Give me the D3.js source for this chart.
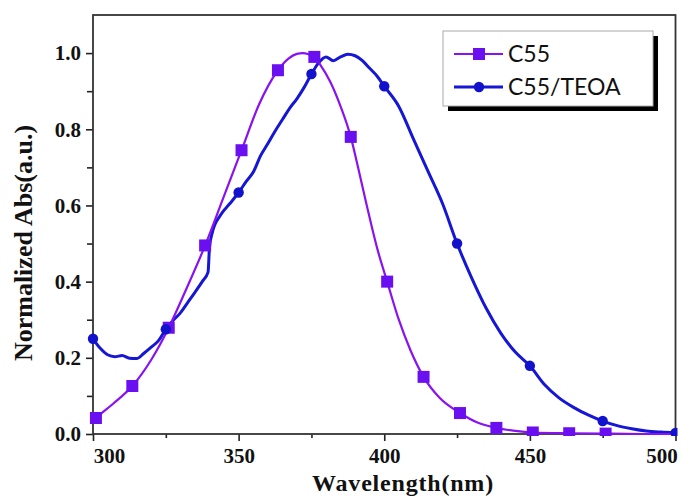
<!DOCTYPE html>
<html>
<head>
<meta charset="utf-8">
<script src="https://cdn.jsdelivr.net/npm/d3@7"></script>
<style>
  body { margin: 0; background: #fff; }
  svg { display: block; }
</style>
</head>
<body>
<svg id="chart" width="689" height="502" viewBox="0 0 689 502"></svg>
<script>
// C55 curve [wavelength nm, normalized abs]
const c55Curve = [
    [300, 0.035], [301, 0.042], [307, 0.08], [313.5, 0.126], [320, 0.195],
    [326, 0.279], [332, 0.38], [338.5, 0.495], [345, 0.625], [351, 0.745],
    [357, 0.865], [363.5, 0.955], [367, 0.985], [370, 0.998], [372, 1.0],
    [374, 0.997], [376, 0.99], [378, 0.97], [381.5, 0.924], [385, 0.86],
    [388.5, 0.78], [391, 0.70], [394, 0.60], [397.7, 0.484], [401, 0.40],
    [405, 0.30], [409, 0.22], [413.5, 0.15], [419, 0.095], [426, 0.055],
    [432, 0.03], [438.5, 0.016], [445, 0.008], [451, 0.004], [463.5, 0.002],
    [476, 0.001], [490, 0.0], [500, 0.0]
];
const c55Markers = [
    [301, 0.042], [313.5, 0.126], [326, 0.279], [338.5, 0.495], [351, 0.745],
    [363.5, 0.955], [376, 0.99], [388.5, 0.78], [401, 0.40], [413.5, 0.15],
    [426, 0.055], [438.5, 0.016], [451, 0.004], [463.5, 0.002], [476, 0.001]
];

// C55/TEOA curve
const teoaCurve = [
    [300, 0.25], [302.5, 0.225], [305, 0.208], [307.5, 0.203], [310, 0.206],
    [312.5, 0.199], [315, 0.198], [317.5, 0.212], [320, 0.228], [322.5, 0.245],
    [325, 0.275], [327.5, 0.298], [330, 0.318], [332.5, 0.345], [335, 0.372],
    [337.5, 0.40], [339.5, 0.425], [340, 0.49], [341, 0.53], [343.8, 0.575],
    [347, 0.605], [350, 0.634], [352.5, 0.662], [355.2, 0.69], [357.5, 0.73],
    [360, 0.762], [362.5, 0.795], [365, 0.825], [367.5, 0.855], [370, 0.88],
    [372.5, 0.91], [375, 0.945], [377.5, 0.975], [380, 0.99], [382.5, 0.98],
    [385, 0.99], [387.5, 0.997], [390, 0.993], [392.5, 0.98], [395, 0.96],
    [397.5, 0.94], [400, 0.913], [405, 0.86], [410, 0.775], [415, 0.69],
    [420, 0.605], [425, 0.50], [430, 0.41], [435, 0.33], [440, 0.265],
    [445, 0.215], [450, 0.179], [455, 0.13], [460, 0.095], [465, 0.07],
    [470, 0.05], [475, 0.034], [480, 0.022], [485, 0.014], [490, 0.008],
    [495, 0.005], [500, 0.003]
];
const teoaMarkers = [
    [300, 0.25], [325, 0.275], [350, 0.634], [375, 0.945], [400, 0.913],
    [425, 0.50], [450, 0.179], [475, 0.034], [500, 0.003]
];

const xTicks = [300, 350, 400, 450, 500];
const xMinor = [325, 375, 425, 475];
const yTicks = [0.0, 0.2, 0.4, 0.6, 0.8, 1.0];
const yMinor = [0.1, 0.3, 0.5, 0.7, 0.9];
const seriesNames = ["C55", "C55/TEOA"];

const purpleLine = "#8a12f2", purpleMark = "#6a10f0";
const blueLine = "#1616d6", blueMark = "#1212cc";

const svg = d3.select("#chart");
const margin = {left: 93, right: 13.5, top: 15, bottom: 68};
const width = 689 - margin.left - margin.right;
const height = 502 - margin.top - margin.bottom;

const x = d3.scaleLinear().domain([300, 500]).range([0, width]);
const y = d3.scaleLinear().domain([0, 1.1]).range([height, 0]);

const g = svg.append("g").attr("transform", `translate(${margin.left},${margin.top})`);

const serif = "'Liberation Serif', 'Times New Roman', serif";

// ticks
const xAxis = g.append("g")
    .attr("transform", `translate(0,${height})`)
    .call(d3.axisBottom(x).tickValues(xTicks).tickSize(7).tickFormat(d3.format("d")));
g.append("g")
    .attr("transform", `translate(0,${height})`)
    .call(d3.axisBottom(x).tickValues(xMinor).tickSize(4).tickFormat(""));
const yAxis = g.append("g")
    .call(d3.axisLeft(y).tickValues(yTicks).tickSize(7).tickFormat(d3.format(".1f")));
g.append("g")
    .call(d3.axisLeft(y).tickValues(yMinor).tickSize(6).tickFormat(""));

g.selectAll(".domain").remove();
g.selectAll(".tick line").attr("stroke", "#222").attr("stroke-width", 1.6);
g.selectAll(".tick text")
    .attr("fill", "#111")
    .style("font-family", serif)
    .style("font-weight", "bold")
    .style("font-size", "21px");
xAxis.selectAll(".tick text").attr("dy", "0.92em");
xAxis.selectAll(".tick text").filter(d => d === 300).attr("dx", 16);
xAxis.selectAll(".tick text").filter(d => d === 500).attr("dx", -14);
yAxis.selectAll(".tick text").attr("x", -12);

// frame
g.append("rect")
    .attr("width", width).attr("height", height)
    .attr("fill", "none").attr("stroke", "#333").attr("stroke-width", 1.8);

g.append("clipPath").attr("id", "clip")
    .append("rect").attr("x", -6).attr("y", -2).attr("width", width + 8).attr("height", height + 4);

const plot = g.append("g").attr("clip-path", "url(#clip)");

const line = d3.line()
    .x(d => x(d[0]))
    .y(d => y(d[1]))
    .curve(d3.curveMonotoneX);

plot.append("path").datum(teoaCurve)
    .attr("d", line).attr("fill", "none")
    .attr("stroke", blueLine).attr("stroke-width", 3).attr("stroke-linejoin", "round");

plot.append("path").datum(c55Curve)
    .attr("d", line).attr("fill", "none")
    .attr("stroke", purpleLine).attr("stroke-width", 2.2);

plot.selectAll(".sq").data(c55Markers).enter()
    .append("rect")
    .attr("x", d => x(d[0]) - 6).attr("y", d => y(d[1]) - 6)
    .attr("width", 12).attr("height", 12)
    .attr("fill", purpleMark);

plot.selectAll(".dot").data(teoaMarkers).enter()
    .append("circle")
    .attr("cx", d => x(d[0])).attr("cy", d => y(d[1]))
    .attr("r", 5.2)
    .attr("fill", blueMark);

// axis titles
svg.append("text")
    .attr("x", 403).attr("y", 491)
    .attr("text-anchor", "middle")
    .style("font-family", serif).style("font-weight", "bold").style("font-size", "24px")
    .style("letter-spacing", "0.8px")
    .attr("fill", "#111")
    .text("Wavelength(nm)");

svg.append("text")
    .attr("transform", "translate(32,243) rotate(-90)")
    .attr("text-anchor", "middle")
    .style("font-family", serif).style("font-weight", "bold").style("font-size", "26px")
    .attr("fill", "#111")
    .text("Normalized Abs(a.u.)");

// legend
const lg = svg.append("g").attr("transform", "translate(443,31)");
lg.append("rect").attr("x", 5).attr("y", 5).attr("width", 210).attr("height", 75).attr("fill", "#000");
lg.append("rect").attr("width", 210).attr("height", 75)
    .attr("fill", "#fff").attr("stroke", "#aaa").attr("stroke-width", 1);

const legendColors = [[purpleLine, purpleMark], [blueLine, blueMark]];
seriesNames.forEach((name, i) => {
    const ly = 23 + i * 33;
    const row = lg.append("g");
    row.append("line").attr("x1", 11).attr("x2", 60).attr("y1", ly).attr("y2", ly)
        .attr("stroke", legendColors[i][0]).attr("stroke-width", i === 0 ? 2.2 : 3);
    if (i === 0) {
        row.append("rect").attr("x", 30).attr("y", ly - 6).attr("width", 12).attr("height", 12)
            .attr("fill", legendColors[i][1]);
    } else {
        row.append("circle").attr("cx", 36).attr("cy", ly).attr("r", 5.2).attr("fill", legendColors[i][1]);
    }
    row.append("text").attr("x", 65).attr("y", ly + 8)
        .style("font-family", "Lato, 'Open Sans', sans-serif").style("font-size", "23px")
        .attr("fill", "#111")
        .text(name);
});
</script>
</body>
</html>
